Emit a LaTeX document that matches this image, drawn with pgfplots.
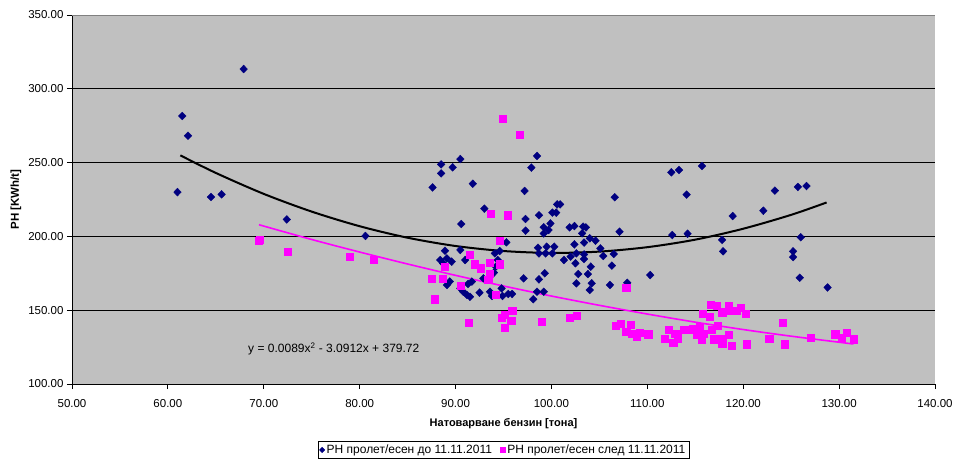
\documentclass[border=0pt]{standalone}
\usepackage{pgfplots}
\pgfplotsset{compat=1.18}
\usepackage{fontspec}
\setmainfont{Liberation Sans}
\definecolor{bgc}{RGB}{192,192,192}
\definecolor{navyc}{RGB}{0,0,128}
\definecolor{magc}{RGB}{255,0,255}
\begin{document}
\begin{tikzpicture}[x=1pt,y=1pt]
\useasboundingbox (-72,-75) rectangle (882,384);
\begin{axis}[
  at={(0,0)}, anchor=south west,
  scale only axis, width=863pt, height=369pt,
  xmin=50, xmax=140, ymin=100, ymax=350,
  xtick={50,60,...,140}, ytick={100,150,...,350},
  tick pos=left, tick align=outside, major tick length=5pt,
  tick style={black, line width=0.8pt},
  /pgf/number format/.cd, fixed, fixed zerofill, precision=2, assume math mode=true,
  /pgfplots/.cd,
  ticklabel style={font=\fontsize{11.5}{14}\selectfont},
  xticklabel style={yshift=-7pt},
  axis background/.style={fill=bgc},
  axis x line*=bottom, axis y line*=left,
  axis line style={black, line width=0.8pt, -},
  ymajorgrids, grid style={black, line width=0.8pt},
  xlabel={\textbf{Натоварване бензин [тона]}},
  ylabel={\textbf{PH [KWh/t]}},
  xlabel style={font=\fontsize{11}{13}\selectfont, at={(axis description cs:0.5,-0.108)}, anchor=center},
  ylabel style={font=\fontsize{11.5}{13}\selectfont, at={(axis description cs:-0.0649,0.5)}, anchor=center},
  legend columns=2,
  legend style={at={(axis description cs:0.5,-0.1545)}, anchor=north, draw=black, line width=0.6pt, fill=white,
    font=\fontsize{12}{13}\selectfont, inner sep=1.5pt, row sep=0pt,
    /tikz/every even column/.append style={column sep=6pt}},
  legend image post style={mark size=2.6pt},
]
\addplot[only marks, mark=diamond*, mark size=3.9pt, color=navyc, mark options={xscale=1.3}] table {
x y
61.0 230.0
61.5 281.6
62.1 268.2
64.5 226.7
65.6 228.5
67.9 313.4
72.4 211.5
80.6 200.3
87.6 233.2
88.5 248.8
88.5 242.7
89.7 246.8
90.5 252.4
91.8 235.7
97.2 230.8
97.9 246.6
98.5 254.5
106.6 226.5
112.5 243.4
113.3 245.0
115.7 247.7
114.1 228.3
123.3 231.0
125.7 233.5
126.6 234.1
112.6 200.9
114.2 201.8
118.9 213.8
122.1 217.4
117.8 197.6
117.9 189.9
126.0 199.4
125.2 189.9
125.2 186.0
125.9 172.0
128.8 165.4
101.9 206.1
102.4 207.0
103.3 206.6
103.6 206.1
103.2 202.1
107.1 203.2
104.0 198.7
104.6 197.1
103.4 195.8
102.4 194.6
105.1 191.9
102.6 188.5
103.4 187.8
106.5 188.1
105.4 186.7
101.3 184.0
102.0 186.3
103.4 184.7
102.5 181.8
106.3 180.2
104.1 179.5
102.8 174.5
103.8 174.5
110.3 173.8
102.6 168.2
104.2 168.2
106.1 167.1
107.9 168.6
104.0 163.7
100.9 221.7
93.0 218.8
97.3 211.8
98.7 214.3
100.6 221.7
100.1 216.1
100.5 216.1
90.6 208.4
97.3 203.9
99.2 206.2
99.7 204.3
99.9 208.8
99.2 202.0
95.3 196.0
88.9 190.3
90.5 190.8
94.1 188.5
94.6 190.1
98.6 192.3
99.5 193.0
100.3 193.0
98.7 188.5
99.4 188.5
100.1 188.5
88.4 184.0
89.1 185.1
89.6 182.9
88.7 181.8
91.0 184.0
94.4 184.0
94.2 179.5
94.0 175.4
99.3 175.0
97.1 171.6
98.7 170.9
92.9 171.6
91.7 169.4
91.3 167.8
89.4 169.4
89.1 167.1
90.5 164.8
90.8 162.5
91.2 160.3
91.5 159.1
92.5 161.9
93.6 162.5
93.8 159.6
94.8 164.8
94.9 159.6
95.5 161.0
95.9 161.0
98.5 162.5
98.1 157.4
99.2 162.5
};
\addlegendentry{PH пролет/есен до 11.11.2011}
\addplot[only marks, mark=square*, mark size=3.6pt, color=magc] table {
x y
69.5 197.1
69.6 198.0
72.5 189.9
79.0 186.5
81.5 184.4
94.9 280.0
96.7 268.9
93.7 215.6
95.4 214.3
94.6 197.1
91.5 187.8
88.9 179.5
92.0 181.1
92.6 178.4
93.6 182.2
94.6 181.1
93.6 174.5
93.4 170.5
87.5 171.1
88.7 171.1
90.5 166.4
87.8 157.4
94.2 160.3
95.1 147.2
95.9 149.5
94.8 145.1
95.8 142.7
91.4 141.6
95.1 138.4
99.0 142.0
101.9 144.9
102.6 146.1
107.8 165.0
106.7 139.3
107.2 141.1
108.3 140.4
107.8 135.4
108.4 134.3
108.9 132.0
109.2 135.0
110.1 133.7
112.2 136.6
111.8 130.9
112.7 128.0
112.9 134.3
113.2 131.0
113.8 136.6
114.5 137.0
114.7 137.7
115.5 138.8
116.7 136.6
117.3 139.5
115.2 133.2
115.9 134.3
115.7 129.8
116.9 130.3
117.8 130.9
118.5 133.2
117.8 127.1
118.8 125.9
120.4 126.9
122.7 130.5
124.3 126.9
127.0 131.2
129.6 133.7
130.3 131.6
130.8 134.8
131.5 130.3
116.6 153.5
117.2 153.0
118.5 153.0
119.7 151.9
115.8 147.9
116.5 145.6
117.8 148.6
118.5 149.5
119.3 149.7
120.3 147.9
124.1 141.6
};
\addlegendentry{PH пролет/есен след 11.11.2011}
% trend lines
\addplot[black, line width=2pt, smooth, forget plot] coordinates {
(61.3,254.9) (65,243.0) (70,228.8) (75,216.8) (80,206.9) (85,199.1) (90,193.5) (95,190.1)
(100,188.8) (105,189.7) (110,192.7) (115,197.8) (120,205.2) (125,214.6) (128.7,223.0)};
\addplot[magc, line width=1.6pt, smooth, forget plot] coordinates {
(69.5,207.9) (75,197.9) (80,189.4) (85,181.3) (90,173.6) (95,166.4) (100,159.6)
(105,153.3) (110,147.4) (115,141.9) (120,136.9) (125,132.4) (131.5,127.1)};
\node[font=\fontsize{12}{14}\selectfont] at (axis cs:77.3,123.7) {y = 0.0089x\textsuperscript{2} - 3.0912x + 379.72};
\draw[gray, line width=0.8pt] (rel axis cs:0,1) -- (rel axis cs:1,1) -- (rel axis cs:1,0);
\end{axis}
\end{tikzpicture}
\end{document}
